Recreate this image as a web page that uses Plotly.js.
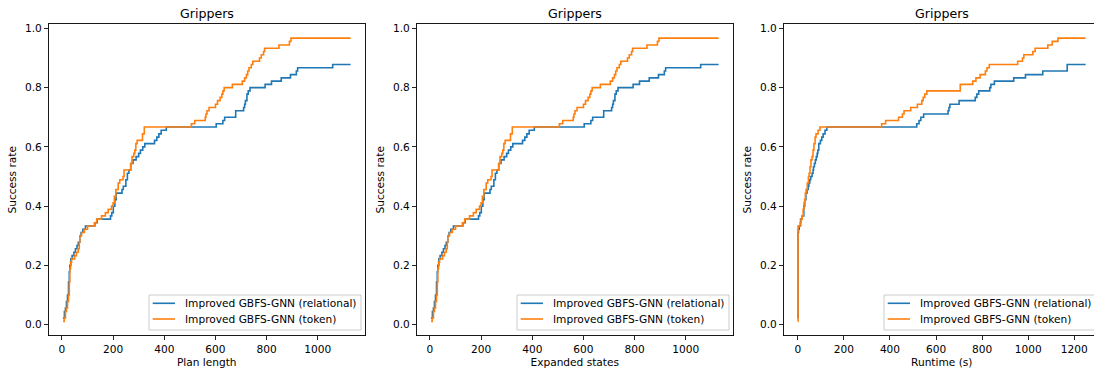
<!DOCTYPE html>
<html>
<head>
<meta charset="utf-8">
<script src="https://cdn.plot.ly/plotly-3.0.1.min.js"></script>
<style>
  html, body { margin: 0; padding: 0; overflow: hidden; background: #fff; }
  #chart { width: 1102px; height: 371px; }
</style>
</head>
<body>
<div id="chart"></div>
<script>
// Success rate on Grippers: fraction of the 90 tasks solved, as a step curve
// over plan length, expanded states and runtime.

const seriesNames = ['Improved GBFS-GNN (relational)', 'Improved GBFS-GNN (token)'];
const panelTitle = 'Grippers';
const xLabels = ['Plan length', 'Expanded states', 'Runtime (s)'];
const yLabel = 'Success rate';
const colors = ['#1f77b4', '#ff7f0e'];

const xTicksCount = [0, 200, 400, 600, 800, 1000];
const xTicksRuntime = [0, 200, 400, 600, 800, 1000, 1200];
const yTicks = [0.0, 0.2, 0.4, 0.6, 0.8, 1.0];

// Plan length
const planRelX = [4, 10, 14, 18, 22, 26, 29, 31, 35, 40, 47, 53, 59, 64, 70, 75, 82, 92, 129, 138,
  190, 195, 201, 207, 212, 235, 240, 250, 256, 262, 269, 278, 290, 300, 307, 316, 324, 362, 371, 379,
  388, 408, 603, 629, 636, 679, 710, 714, 717, 723, 728, 735, 794, 819, 857, 893, 916, 921, 1058, 1128];
const planRelY = [.022, .044, .056, .078, .1, .144, .178, .2, .222, .233, .244, .256, .267, .278, .3, .311, .322, .333, .344, .356,
  .367, .378, .4, .422, .444, .456, .467, .489, .511, .522, .544, .556, .567, .578, .589, .6, .611, .622, .633, .644,
  .656, .667, .678, .689, .7, .722, .733, .744, .756, .778, .789, .8, .811, .822, .833, .844, .856, .867, .878, .878];
const planTokX = [5, 9, 14, 18, 22, 26, 29, 31, 34, 38, 50, 57, 64, 68, 70, 77, 88, 100, 127, 136,
  155, 170, 181, 194, 200, 205, 211, 220, 226, 239, 243, 269, 274, 281, 285, 289, 294, 315, 322, 506,
  519, 560, 563, 567, 575, 600, 608, 618, 625, 629, 634, 666, 705, 714, 721, 726, 731, 740, 746, 772,
  779, 788, 792, 848, 889, 895, 1128];
const planTokY = [.011, .022, .044, .056, .078, .1, .144, .189, .211, .222, .233, .244, .256, .278, .3, .311, .322, .333, .344, .356,
  .367, .378, .389, .4, .411, .433, .456, .478, .489, .5, .522, .544, .567, .578, .589, .611, .622, .644, .667, .678,
  .689, .7, .711, .722, .733, .744, .756, .767, .778, .789, .8, .811, .822, .833, .844, .856, .867, .878, .889, .9,
  .911, .922, .933, .944, .956, .967, .967];

// Expanded states
const expRelX = [4, 10, 14, 18, 22, 26, 29, 31, 35, 40, 47, 53, 59, 64, 70, 75, 82, 92, 129, 138,
  190, 195, 201, 207, 212, 235, 240, 250, 256, 262, 269, 278, 290, 300, 307, 316, 324, 362, 371, 379,
  388, 408, 603, 629, 636, 679, 710, 714, 717, 723, 728, 735, 794, 819, 857, 893, 916, 921, 1058, 1128];
const expRelY = [.022, .044, .056, .078, .1, .144, .178, .2, .222, .233, .244, .256, .267, .278, .3, .311, .322, .333, .344, .356,
  .367, .378, .4, .422, .444, .456, .467, .489, .511, .522, .544, .556, .567, .578, .589, .6, .611, .622, .633, .644,
  .656, .667, .678, .689, .7, .722, .733, .744, .756, .778, .789, .8, .811, .822, .833, .844, .856, .867, .878, .878];
const expTokX = [5, 9, 14, 18, 22, 26, 29, 31, 34, 38, 50, 57, 64, 68, 70, 77, 88, 100, 127, 136,
  155, 170, 181, 194, 200, 205, 211, 220, 226, 239, 243, 269, 274, 281, 285, 289, 294, 315, 322, 506,
  519, 560, 563, 567, 575, 600, 608, 618, 625, 629, 634, 666, 705, 714, 721, 726, 731, 740, 746, 772,
  779, 788, 792, 848, 889, 895, 1128];
const expTokY = [.011, .022, .044, .056, .078, .1, .144, .189, .211, .222, .233, .244, .256, .278, .3, .311, .322, .333, .344, .356,
  .367, .378, .389, .4, .411, .433, .456, .478, .489, .5, .522, .544, .567, .578, .589, .611, .622, .644, .667, .678,
  .689, .7, .711, .722, .733, .744, .756, .767, .778, .789, .8, .811, .822, .833, .844, .856, .867, .878, .889, .9,
  .911, .922, .933, .944, .956, .967, .967];

// Runtime (s)
const runRelX = [0.5, 1, 3, 6, 12, 19, 26, 30, 35, 40, 45, 48, 52, 56, 62, 66, 68, 72, 76, 80,
  84, 87, 91, 98, 104, 110, 118, 126, 516, 526, 534, 546, 652, 656, 660, 700, 770, 777, 785, 833,
  838, 853, 937, 988, 1063, 1169, 1249];
const runRelY = [.022, .311, .322, .333, .356, .367, .4, .422, .444, .456, .467, .478, .489, .5, .511, .522, .533, .544, .556, .567,
  .578, .589, .611, .622, .633, .644, .656, .667, .678, .689, .7, .711, .722, .733, .744, .756, .767, .778, .789, .8,
  .811, .822, .833, .844, .856, .878, .878];
const runTokX = [0.3, 1, 10, 14, 19, 23, 27, 30, 33, 36, 41, 46, 49, 53, 57, 62, 66, 70, 75, 79,
  88, 96, 364, 381, 437, 454, 461, 490, 519, 538, 544, 551, 560, 705, 759, 773, 791, 814, 821, 831,
  954, 975, 981, 1020, 1030, 1085, 1104, 1129, 1249];
const runTokY = [.011, .333, .344, .356, .367, .389, .411, .422, .444, .456, .478, .5, .511, .533, .556, .567, .589, .611, .633, .644,
  .656, .667, .678, .689, .7, .711, .722, .733, .744, .756, .767, .778, .789, .811, .822, .833, .844, .856, .867, .878,
  .889, .9, .911, .922, .933, .944, .956, .967, .967];

// ---- layout geometry (pixels) ----
const W = 1102, H = 371;
const boxLeft = [48.5, 416.5, 783.5];
const boxWidth = 316.5;
const boxTop = 24, boxBottom = 335.5;
const fx = p => p / W;
const fy = p => 1 - p / H;

const FONT = 'DejaVu Sans, Liberation Sans, Arial, sans-serif';
const fontSize = 10.6;

const panels = [
  { rel: [planRelX, planRelY], tok: [planTokX, planTokY], ticks: xTicksCount },
  { rel: [expRelX, expRelY], tok: [expTokX, expTokY], ticks: xTicksCount },
  { rel: [runRelX, runRelY], tok: [runTokX, runTokY], ticks: xTicksRuntime }
];

// matplotlib-style autoscale: 5% padding around the data extent
function padded(lo, hi) {
  const m = (hi - lo) * 0.05;
  return [lo - m, hi + m];
}

const traces = [];
const layout = {
  width: W, height: H,
  margin: { l: 0, r: 0, t: 0, b: 0 },
  paper_bgcolor: '#ffffff',
  plot_bgcolor: '#ffffff',
  showlegend: false,
  font: { family: FONT, size: fontSize, color: '#000' },
  annotations: [],
  shapes: []
};

// y extent shared by all panels
const allY = [].concat(planRelY, planTokY, expRelY, expTokY, runRelY, runTokY);
const yRange = padded(Math.min(...allY), Math.max(...allY));

panels.forEach((p, i) => {
  const n = i === 0 ? '' : String(i + 1);
  const xa = 'x' + n, ya = 'y' + n;
  [p.rel, p.tok].forEach((s, j) => {
    traces.push({
      x: s[0], y: s[1], xaxis: xa, yaxis: ya,
      type: 'scatter', mode: 'lines',
      line: { shape: 'hv', color: colors[j], width: 1.6 },
      name: seriesNames[j], hoverinfo: 'skip'
    });
  });
  const xs = p.rel[0].concat(p.tok[0]);
  const L = boxLeft[i];
  const axisCommon = {
    showgrid: false, zeroline: false, showline: true, mirror: true,
    linecolor: '#000', linewidth: 0.9,
    ticks: 'outside', ticklen: 3.7, tickwidth: 0.85, tickcolor: '#000',
    tickfont: { family: FONT, size: fontSize, color: '#000' }
  };
  layout['xaxis' + n] = Object.assign({}, axisCommon, {
    domain: [fx(L), fx(L + boxWidth)],
    anchor: ya,
    range: padded(Math.min(...xs), Math.max(...xs)),
    tickvals: p.ticks, tickformat: 'd',
    title: { text: xLabels[i], font: { family: FONT, size: fontSize, color: '#000' }, standoff: 4 }
  });
  layout['yaxis' + n] = Object.assign({}, axisCommon, {
    domain: [fy(boxBottom), fy(boxTop)],
    anchor: xa,
    range: yRange,
    tickvals: yTicks, tickformat: '.1f',
    title: { text: yLabel, font: { family: FONT, size: fontSize, color: '#000' }, standoff: 6 }
  });

  // panel title
  layout.annotations.push({
    xref: 'paper', yref: 'paper', x: fx(L + boxWidth / 2), y: fy(13.5),
    xanchor: 'center', yanchor: 'middle', showarrow: false,
    text: panelTitle, font: { family: FONT, size: 12.6, color: '#000' }
  });

  // legend in the lower right corner of each panel
  const fL = L + 100.5, fR = L + 312.5;
  layout.shapes.push({
    type: 'rect', xref: 'paper', yref: 'paper',
    x0: fx(fL), x1: fx(fR), y0: fy(330), y1: fy(295),
    fillcolor: 'rgba(255,255,255,0.8)', line: { color: '#cccccc', width: 1 }
  });
  [303.3, 319].forEach((yy, j) => {
    layout.shapes.push({
      type: 'line', xref: 'paper', yref: 'paper',
      x0: fx(fL + 3.7), x1: fx(fL + 26), y0: fy(yy), y1: fy(yy),
      line: { color: colors[j], width: 1.6 }
    });
    layout.annotations.push({
      xref: 'paper', yref: 'paper', x: fx(fL + 33.5), y: fy(yy),
      xanchor: 'left', yanchor: 'middle', showarrow: false,
      text: seriesNames[j], font: { family: FONT, size: fontSize, color: '#000' }
    });
  });
});

Plotly.newPlot('chart', traces, layout, { staticPlot: true, displayModeBar: false });
</script>
</body>
</html>
